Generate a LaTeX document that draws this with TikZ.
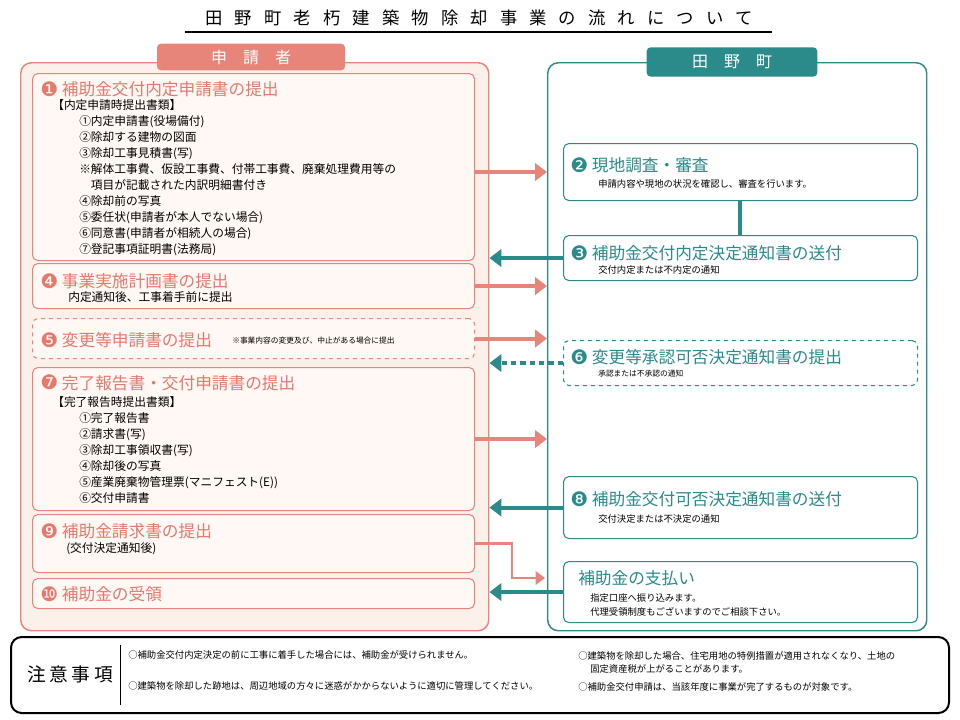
\documentclass[tikz,border=0pt]{standalone}
\usepackage{fontspec}
\setmainfont{Noto Sans CJK JP}
\newfontfamily\dv{DejaVu Sans}
\usepackage{tikz}
\usetikzlibrary{positioning}
\usetikzlibrary{arrows.meta}
\usetikzlibrary{calc}

\definecolor{salmon}{HTML}{E8857A}
\definecolor{salmontext}{HTML}{E4796C}
\definecolor{pinkbg}{HTML}{FCF0EB}
\definecolor{boxbg}{HTML}{FFF8F5}
\definecolor{teal}{HTML}{2B8A8A}

\newcommand{\num}[1]{\raisebox{-0.5pt}{\dv\fontsize{15}{15}\selectfont #1}}

\begin{document}
\begin{tikzpicture}
  [
    x=0.75pt, y=-0.75pt,
    panel/.style={
       rounded corners=8pt,
       line width=1.1pt,
       anchor=north west,
       inner sep=0pt
    },
    lbox/.style={
       draw=salmon,
       fill=boxbg,
       rounded corners=4pt,
       line width=0.8pt,
       anchor=north west,
       minimum width=331.5pt,
       inner sep=0pt
    },
    rbox/.style={
       draw=teal,
       fill=white,
       rounded corners=4pt,
       line width=0.8pt,
       anchor=north west,
       minimum width=265.5pt,
       inner sep=0pt
    },
    tab/.style={
       text=white,
       font=\fontsize{12}{14}\selectfont,
       rounded corners=3pt,
       inner sep=0pt
    },
    ltitle/.style={
       anchor=west,
       text=salmontext,
       font=\fontsize{12.5}{14}\selectfont,
       inner sep=0pt
    },
    rtitle/.style={
       anchor=west,
       text=teal,
       font=\fontsize{12.5}{14}\selectfont,
       inner sep=0pt
    },
    body/.style={
       anchor=north west,
       align=left,
       font=\fontsize{8.8}{12}\selectfont,
       inner sep=0pt
    },
    small/.style={
       anchor=west,
       font=\fontsize{7}{10}\selectfont,
       inner sep=0pt
    },
    parr/.style={
       draw=salmon,
       line width=3pt,
       -{Triangle[length=9pt,width=13pt]}
    },
    tarr/.style={
       draw=teal,
       line width=3pt,
       -{Triangle[length=9pt,width=13pt]}
    }
  ]
  \useasboundingbox (0,0) rectangle (960,719);

  % title
  \node (title) at (479,18) {\fontsize{13}{15}\selectfont\addfontfeature{LetterSpace=70}田野町老朽建築物除却事業の流れについて};
  \draw [line width=0.8pt] (185,32) -- (772,32);

  % panels
  \node (left) at (20,62) [panel, draw=salmon, fill=pinkbg, minimum width=351pt, minimum height=426pt] {};
  \node (right) at (547,62) [panel, draw=teal, fill=white, minimum width=284.25pt, minimum height=426pt] {};
  \node (ltab) at (251,57) [tab, fill=salmon, minimum width=141pt, minimum height=20pt] {申\quad 請\quad 者};
  \node (rtab) at (732,62) [tab, fill=teal, minimum width=128pt, minimum height=22pt] {田\quad 野\quad 町};

  % applicant side
  \node (b1) at (32,73) [lbox, minimum height=140.25pt] {};
  \node at (40,89) [ltitle] {\num{❶} 補助金交付内定申請書の提出};
  \node at (52,99) [body] {【内定申請時提出書類】\\
    \hspace{2.3em}①内定申請書(役場備付)\\
    \hspace{2.3em}②除却する建物の図面\\
    \hspace{2.3em}③除却工事見積書(写)\\
    \hspace{2.3em}※解体工事費、仮設工事費、付帯工事費、廃棄処理費用等の\\
    \hspace{3.3em}項目が記載された内訳明細書付き\\
    \hspace{2.3em}④除却前の写真\\
    \hspace{2.3em}⑤委任状(申請者が本人でない場合)\\
    \hspace{2.3em}⑥同意書(申請者が相続人の場合)\\
    \hspace{2.3em}⑦登記事項証明書(法務局)};

  \node (b4) at (32,263) [lbox, minimum height=33.75pt] {};
  \node at (40,281) [ltitle] {\num{❹} 事業実施計画書の提出};
  \node at (68,291) [body] {内定通知後、工事着手前に提出};

  \node (b5) at (32,318) [lbox, dashed, minimum height=30pt] {};
  \node at (40,340) [ltitle] {\num{❺} 変更等申請書の提出};
  \node at (232,341) [small, font=\fontsize{5.8}{7}\selectfont] {※事業内容の変更及び、中止がある場合に提出};

  \node (b7) at (32,367) [lbox, minimum height=107.25pt] {};
  \node at (40,383) [ltitle] {\num{❼} 完了報告書・交付申請書の提出};
  \node at (52,396) [body] {【完了報告時提出書類】\\
    \hspace{2.3em}①完了報告書\\
    \hspace{2.3em}②請求書(写)\\
    \hspace{2.3em}③除却工事領収書(写)\\
    \hspace{2.3em}④除却後の写真\\
    \hspace{2.3em}⑤産業廃棄物管理票(マニフェスト(E))\\
    \hspace{2.3em}⑥交付申請書};

  \node (b9) at (32,514) [lbox, minimum height=43.5pt] {};
  \node at (40,531) [ltitle] {\num{❾} 補助金請求書の提出};
  \node at (66,542) [body] {(交付決定通知後)};

  \node (b10) at (32,578) [lbox, minimum height=22.5pt] {};
  \node at (40,594) [ltitle] {\num{❿} 補助金の受領};

  % town side
  \node (b2) at (563,143) [rbox, minimum height=42.75pt] {};
  \node at (570,165) [rtitle] {\num{❷} 現地調査・審査};
  \node at (598,184) [small] {申請内容や現地の状況を確認し、審査を行います。};

  \node (b3) at (563,235) [rbox, minimum height=33.75pt] {};
  \node at (570,253) [rtitle] {\num{❸} 補助金交付内定決定通知書の送付};
  \node at (598,270) [small] {交付内定または不内定の通知};

  \node (b6) at (563,340) [rbox, dashed, minimum height=33.75pt] {};
  \node at (570,357) [rtitle] {\num{❻} 変更等承認可否決定通知書の提出};
  \node at (598,374) [small, font=\fontsize{5.8}{7}\selectfont] {承認または不承認の通知};

  \node (b8) at (563,476) [rbox, minimum height=46.5pt] {};
  \node at (570,499) [rtitle] {\num{❽} 補助金交付可否決定通知書の送付};
  \node at (598,519) [small] {交付決定または不決定の通知};

  \node (pay) at (563,561) [rbox, minimum height=45.75pt] {};
  \node at (578,578) [rtitle] {補助金の支払い};
  \node at (590,598) [small] {指定口座へ振り込みます。};
  \node at (590,612) [small] {代理受領制度もございますのでご相談下さい。};

  % connectors
  \draw [teal, line width=2.4pt] (b2.south -| 740,0) -- (b3.north -| 740,0);
  \draw [parr] (b1.east |- b2.west) -- (right.west |- b2.west);
  \draw [parr] (b4.east) -- (right.west |- b4.east);
  \draw [parr] (b5.east) -- (right.west |- b5.east);
  \draw [parr] (b7.east) -- (right.west |- b7.east);
  \draw [tarr] (b3.west) -- (left.east |- b3.west);
  \draw [tarr, dash pattern=on 4pt off 3pt] (b6.west) -- (left.east |- b6.west);
  \draw [tarr] (b8.west) -- (left.east |- b8.west);
  \draw [tarr] (pay.west) -- (left.east |- pay.west);
  \coordinate (payin) at (545,578);
  \draw [salmon, line width=2.2pt, -{Triangle[length=7pt,width=10pt]}] (b9.east) -- (512,0 |- b9.east) |- (payin);

  % notes
  \node (note) at (10,636) [panel, draw=black, line width=1.5pt, minimum width=703.5pt, minimum height=57pt] {};
  \node at (70,674) {\fontsize{14}{16}\selectfont\addfontfeature{LetterSpace=20}注意事項};
  \draw (120,645) -- (120,705);
  \node at (128,655) [small] {○補助金交付内定決定の前に工事に着手した場合には、補助金が受けられません。};
  \node at (128,686) [small] {○建築物を除却した跡地は、周辺地域の方々に迷惑がかからないように適切に管理してください。};
  \node at (578,656) [small] {○建築物を除却した場合、住宅用地の特例措置が適用されなくなり、土地の};
  \node at (590,669) [small] {固定資産税が上がることがあります。};
  \node at (578,687) [small] {○補助金交付申請は、当該年度に事業が完了するものが対象です。};
\end{tikzpicture}
\end{document}
